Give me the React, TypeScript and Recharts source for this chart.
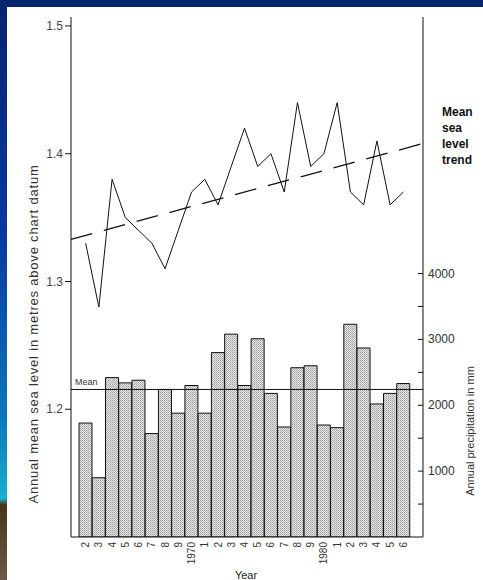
import {
  ComposedChart,
  Bar,
  Line,
  XAxis,
  YAxis,
  ReferenceLine
} from 'recharts';

const years = [1962, 1963, 1964, 1965, 1966, 1967, 1968, 1969, 1970, 1971, 1972, 1973, 1974, 1975, 1976, 1977, 1978, 1979, 1980, 1981, 1982, 1983, 1984, 1985, 1986];
const tickLabels = ['2', '3', '4', '5', '6', '7', '8', '9', '1970', '1', '2', '3', '4', '5', '6', '7', '8', '9', '1980', '1', '2', '3', '4', '5', '6'];

// annual mean sea level, metres above chart datum
const seaLevel = [1.33, 1.28, 1.38, 1.35, 1.34, 1.33, 1.31, 1.34, 1.37, 1.38, 1.36, 1.39, 1.42, 1.39, 1.40, 1.37, 1.44, 1.39, 1.40, 1.44, 1.37, 1.36, 1.41, 1.36, 1.37];

// annual precipitation, mm
const precipitation = [1730, 900, 2420, 2340, 2380, 1570, 2240, 1880, 2300, 1880, 2800, 3080, 2300, 3010, 2180, 1670, 2570, 2600, 1700, 1660, 3230, 2870, 2020, 2180, 2330];
const meanPrecipitation = 2240;

// trend line, value at left and right edge of the plot
const trendStart = 1.333;
const trendEnd = 1.408;

const seaTicks = [1.2, 1.3, 1.4, 1.5];
const rainTicks = [500, 1000, 1500, 2000, 2500, 3000, 3500, 4000];

const data = years.map((year, i) => ({
  year,
  label: tickLabels[i],
  sea: seaLevel[i],
  rain: precipitation[i]
}));

const trendData = [
  { t: 0, v: trendStart },
  { t: 1, v: trendEnd }
];

const FONT = '"Liberation Sans", Arial, sans-serif';
const INK = '#111';

const YearTick = (props: any) => {
  const { x, y, index } = props;
  return (
    <text
      x={x}
      y={y + 5}
      transform={`rotate(-90, ${x}, ${y + 5})`}
      textAnchor="end"
      dominantBaseline="central"
      fontSize={10}
      fontFamily={FONT}
      fill="#333"
    >
      {tickLabels[index]}
    </text>
  );
};

const RainTick = (props: any) => {
  const { x, y, payload } = props;
  const axisX = x - 5;
  return (
    <g>
      <line x1={axisX - 5} x2={axisX} y1={y} y2={y} stroke={INK} strokeWidth={1} />
      {payload.value % 1000 === 0 && (
        <text x={x} y={y} dominantBaseline="central" fontSize={12} fontFamily={FONT} fill="#333">
          {payload.value}
        </text>
      )}
    </g>
  );
};

export default function App() {
  return (
    <div style={{ position: 'absolute', left: 0, top: 0, width: 483, height: 580, background: '#fff', overflow: 'hidden', fontFamily: FONT }}>
      <ComposedChart
        width={483}
        height={580}
        data={data}
        margin={{ top: 17, right: 0, bottom: 3, left: 0 }}
        barCategoryGap={0}
      >
        <defs>
          <pattern id="stipple" width="2" height="2" patternUnits="userSpaceOnUse">
            <rect width="2" height="2" fill="#e6e6e6" />
            <rect x="0" y="0" width="1" height="1" fill="#9e9e9e" />
            <rect x="1" y="1" width="1" height="1" fill="#b8b8b8" />
          </pattern>
        </defs>
        <XAxis
          dataKey="year"
          type="category"
          height={40}
          padding={{ left: 8, right: 13 }}
          stroke={INK}
          tickLine={false}
          tickSize={0}
          tickMargin={0}
          interval={0}
          tick={<YearTick />}
        />
        <XAxis xAxisId="trend" dataKey="t" type="number" domain={[0, 1]} hide />
        <YAxis
          yAxisId="left"
          width={71}
          domain={[1.1, 1.507]}
          ticks={seaTicks}
          tickFormatter={(v: number) => v.toFixed(1)}
          stroke={INK}
          tickSize={6}
          tickMargin={2}
          tick={{ fontSize: 12, fill: '#444', fontFamily: FONT }}
          allowDataOverflow
        />
        <YAxis
          yAxisId="right"
          orientation="right"
          width={60}
          domain={[0, 7895]}
          ticks={rainTicks}
          stroke={INK}
          tickLine={false}
          tickSize={0}
          tickMargin={5}
          interval={0}
          tick={<RainTick />}
          allowDataOverflow
        />
        <Bar
          yAxisId="right"
          dataKey="rain"
          fill="url(#stipple)"
          stroke={INK}
          strokeWidth={1}
          isAnimationActive={false}
        />
        <ReferenceLine
          yAxisId="right"
          y={meanPrecipitation}
          stroke={INK}
          strokeWidth={1}
          label={{ value: 'Mean', position: 'insideBottomLeft', offset: 4, fontSize: 9, fill: '#333', fontFamily: FONT }}
        />
        <Line
          yAxisId="left"
          dataKey="sea"
          type="linear"
          stroke={INK}
          strokeWidth={1}
          dot={false}
          isAnimationActive={false}
        />
        <Line
          xAxisId="trend"
          yAxisId="left"
          data={trendData}
          dataKey="v"
          type="linear"
          stroke={INK}
          strokeWidth={1.3}
          strokeDasharray="22 12"
          dot={false}
          isAnimationActive={false}
        />
      </ComposedChart>

      {/* axis titles and annotation */}
      <div style={{ position: 'absolute', left: 33, top: 334, transform: 'translate(-50%, -50%) rotate(-90deg)', whiteSpace: 'nowrap', fontSize: 13, letterSpacing: 0.8, color: '#333' }}>
        Annual mean sea level in metres above chart datum
      </div>
      <div style={{ position: 'absolute', left: 470, top: 431, transform: 'translate(-50%, -50%) rotate(-90deg)', whiteSpace: 'nowrap', fontSize: 11, color: '#333' }}>
        Annual precipitation in mm
      </div>
      <div style={{ position: 'absolute', left: 246, top: 575, transform: 'translate(-50%, -50%)', fontSize: 11, color: '#222' }}>
        Year
      </div>
      <div style={{ position: 'absolute', left: 442, top: 104, fontSize: 12, fontWeight: 'bold', lineHeight: '16px', color: '#111' }}>
        Mean<br />sea<br />level<br />trend
      </div>

      {/* scan border */}
      <div style={{ position: 'absolute', left: 0, top: 0, width: 483, height: 7, background: '#07256e' }} />
      <div style={{ position: 'absolute', left: 0, top: 0, width: 7, height: 580, background: 'linear-gradient(#07256e 0%, #0a38a0 40%, #0c78b8 72%, #17b0cc 86%, #4a3418 87%, #6a5a48 100%)' }} />
    </div>
  );
}
